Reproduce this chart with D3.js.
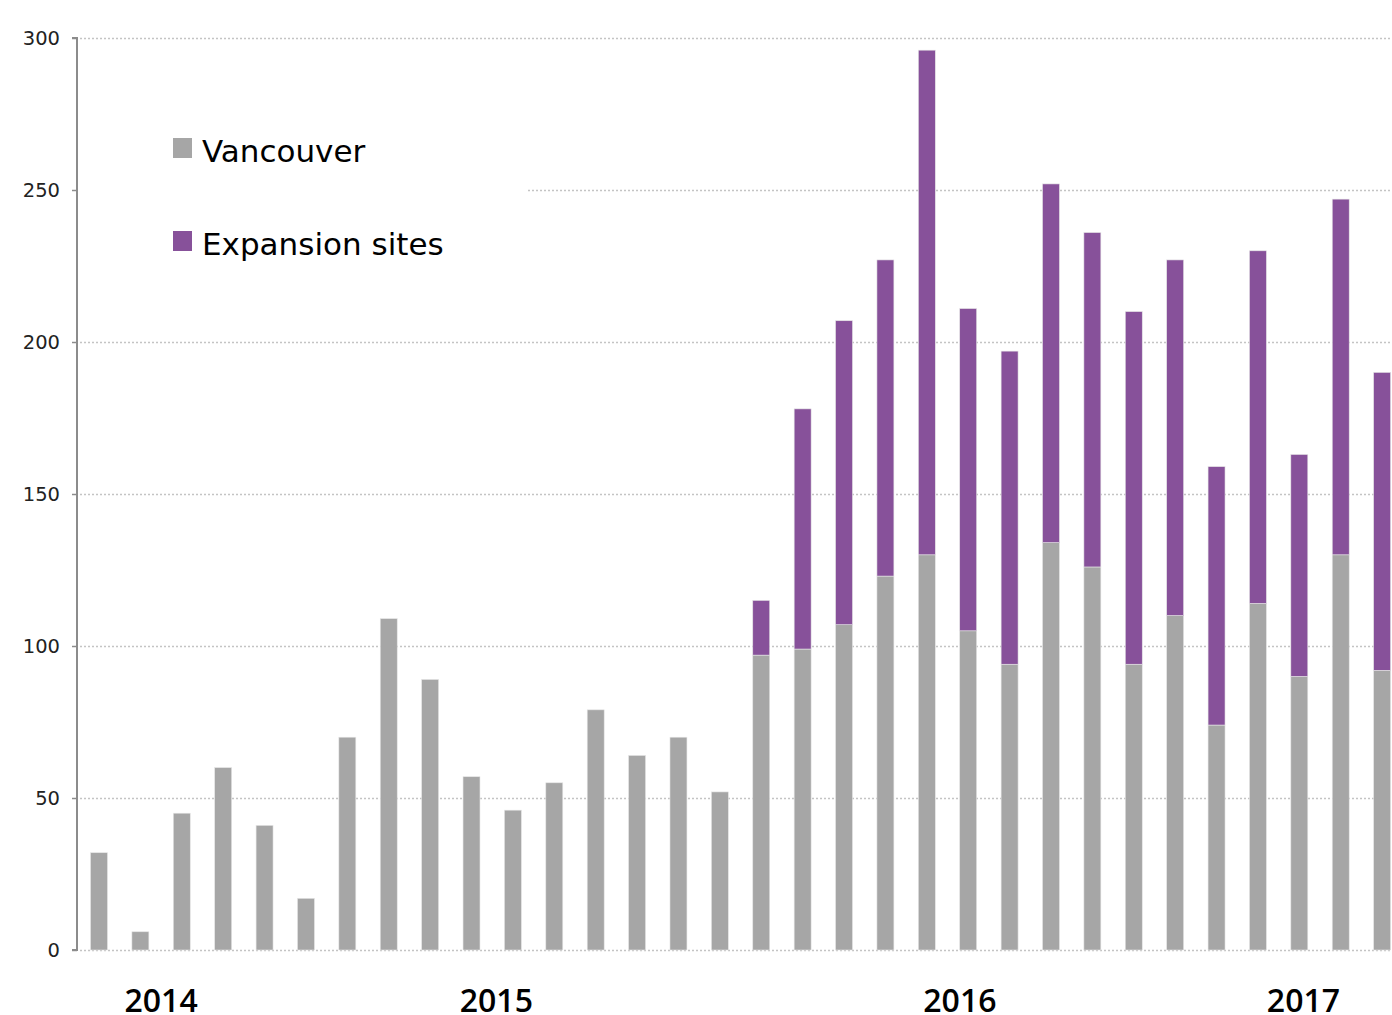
<!DOCTYPE html>
<html>
<head>
<meta charset="utf-8">
<script src="https://cdn.jsdelivr.net/npm/d3@7"></script>
<style>
  html, body { margin: 0; padding: 0; background: #fff; }
  svg { display: block; }
</style>
</head>
<body>
<svg id="chart" width="1392" height="1015"></svg>
<script>
// ---- data ----
const periods = ["p01","p02","p03","p04","p05","p06","p07","p08","p09","p10","p11","p12","p13","p14","p15","p16",
                 "p17","p18","p19","p20","p21","p22","p23","p24","p25","p26","p27","p28","p29","p30","p31","p32"];
const vancouver = [32, 6, 45, 60, 41, 17, 70, 109, 89, 57, 46, 55, 79, 64, 70, 52,
                   97, 99, 107, 123, 130, 105, 94, 134, 126, 94, 110, 74, 114, 90, 130, 92];
const expansion = [0, 0, 0, 0, 0, 0, 0, 0, 0, 0, 0, 0, 0, 0, 0, 0,
                   18, 79, 100, 104, 166, 106, 103, 118, 110, 116, 117, 85, 116, 73, 117, 98];
const yTicks = [0, 50, 100, 150, 200, 250, 300];
const yearLabels = ["2014", "2015", "2016", "2017"];
const yearAnchorIndex = [1.5, 9.6, 20.8, 29.1];
const seriesNames = ["Vancouver", "Expansion sites"];
const seriesColors = ["#a6a6a6", "#87519a"];

// ---- layout ----
const svg = d3.select("#chart");
const plotTop = 38, plotBottom = 950, axisX = 77, rightEdge = 1392;

const x = d3.scaleBand().domain(periods).range([78.3, 1402.8]).paddingInner(0.59).paddingOuter(0.295);
const y = d3.scaleLinear().domain([0, 300]).range([plotBottom, plotTop]);

// gridlines
svg.append("g").selectAll("line").data(yTicks).join("line")
  .attr("x1", axisX + 3).attr("x2", rightEdge)
  .attr("y1", d => y(d) + 0.5).attr("y2", d => y(d) + 0.5)
  .attr("stroke", "#c4c4c4").attr("stroke-width", 1.3)
  .attr("stroke-dasharray", "2,2");

// legend background (masks gridline)
svg.append("rect").attr("x", axisX + 2).attr("y", 105).attr("width", 527 - axisX - 2).attr("height", 170).attr("fill", "#fff");

// axis
const yAxis = d3.axisLeft(y).tickValues(yTicks).tickSize(5).tickPadding(12);
const ga = svg.append("g").attr("transform", `translate(${axisX},0)`).call(yAxis);
ga.select(".domain").attr("stroke", "#8c8c8c").attr("stroke-width", 2).attr("d", `M-5,${plotTop}H0V${plotBottom}H-5`);
ga.selectAll(".tick line").attr("stroke", "#8c8c8c").attr("stroke-width", 1.5);
ga.selectAll(".tick text").attr("fill", "#222").attr("font-family", "'DejaVu Sans', sans-serif").attr("font-size", 19.5);

// stacked bars
const rows = periods.map((p, i) => ({ period: p, Vancouver: vancouver[i], "Expansion sites": expansion[i] }));
const stacked = d3.stack().keys(seriesNames)(rows);
svg.append("g").selectAll("g").data(stacked).join("g")
  .attr("fill", (d, i) => seriesColors[i])
  .selectAll("rect").data(d => d.filter(s => s[1] - s[0] > 0)).join("rect")
  .attr("x", d => x(d.data.period))
  .attr("width", x.bandwidth())
  .attr("y", d => y(d[1]))
  .attr("height", d => y(d[0]) - y(d[1]))
  .attr("stroke", "#e6e6e6").attr("stroke-width", 0.6);

// year labels
svg.append("g").selectAll("text").data(yearLabels).join("text")
  .attr("x", (d, i) => x(periods[0]) + x.bandwidth() / 2 + yearAnchorIndex[i] * x.step())
  .attr("y", 1012)
  .attr("text-anchor", "middle")
  .attr("font-family", "'Open Sans', sans-serif").attr("font-weight", 600)
  .attr("font-size", 32).attr("fill", "#000")
  .text(d => d);

// legend
const lg = svg.append("g").selectAll("g").data(seriesNames).join("g")
  .attr("transform", (d, i) => `translate(173,${138 + i * 93})`);
lg.append("rect").attr("width", 19).attr("height", 20).attr("fill", (d, i) => seriesColors[i]);
lg.append("text").attr("x", 29).attr("y", 23.5)
  .attr("font-family", "'DejaVu Sans', sans-serif").attr("font-size", 31).attr("fill", "#000")
  .text(d => d);
</script>
</body>
</html>
